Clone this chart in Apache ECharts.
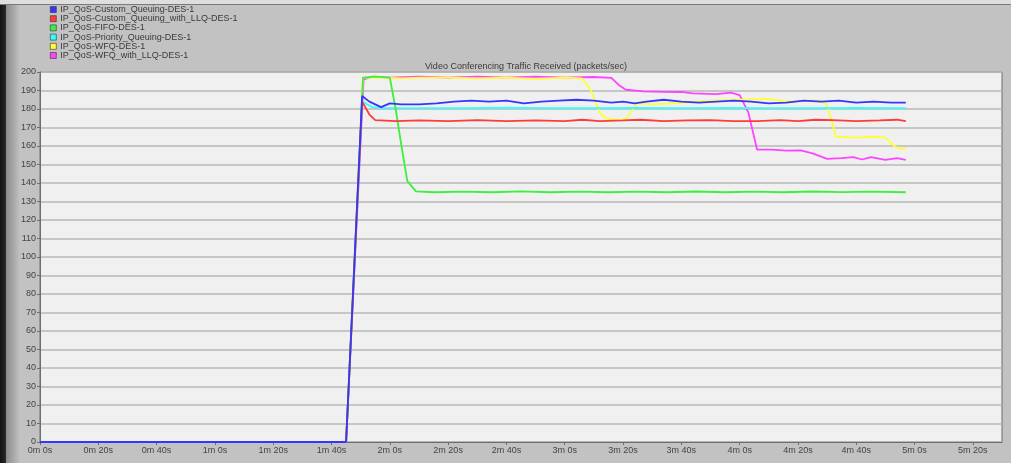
<!DOCTYPE html>
<html>
<head>
<meta charset="utf-8">
<script src="https://cdn.jsdelivr.net/npm/echarts@6/dist/echarts.min.js"></script>
<style>
  html, body { margin: 0; padding: 0; background: #c2c2c2; }
  #chart { width: 1011px; height: 463px; }
</style>
</head>
<body>
<div id="chart"></div>
<script>
// series names (legend order)
var names = [
  'IP_QoS-Custom_Queuing-DES-1',
  'IP_QoS-Custom_Queuing_with_LLQ-DES-1',
  'IP_QoS-FIFO-DES-1',
  'IP_QoS-Priority_Queuing-DES-1',
  'IP_QoS-WFQ-DES-1',
  'IP_QoS-WFQ_with_LLQ-DES-1'
];
var colors = ['#3535ff', '#ff3a3a', '#3cf03c', '#33ffff', '#ffff33', '#ff44ff'];

// [seconds, packets/sec]
var customQ = [[0,0],[105,0],[110.5,187],[113,184],[117,181],[120,183],[124,182.5],[130,182.5],[136,183],[142,184],[148,184.5],[154,184],[160,184.5],[166,183],[172,184],[178,184.5],[184,185],[190,184.5],[196,183.5],[200,184],[204,183],[208,184],[214,185],[220,184],[226,183.5],[232,184],[238,184.5],[244,184],[250,183],[256,183.5],[262,184.5],[268,184],[274,184.5],[280,183.5],[286,184],[292,183.5],[297,183.5]];
var customLLQ = [[0,0],[105,0],[110.5,184],[113,177],[115,174],[122,173.5],[130,173.8],[140,173.5],[150,174],[160,173.5],[170,173.8],[180,173.5],[186,174.2],[192,173.5],[200,173.8],[206,174.2],[214,173.5],[222,173.8],[230,174],[238,173.5],[246,173.5],[254,174],[260,173.5],[266,174.2],[272,174],[280,173.5],[288,173.8],[294,174.2],[297,173.5]];
var fifo = [[0,0],[105,0],[110.8,197],[115,197.5],[120,197],[122,180],[124,160],[126,141],[129,135.5],[135,135],[145,135.3],[155,135],[165,135.5],[175,135],[185,135.3],[195,135],[205,135.3],[215,135],[225,135.4],[235,135],[245,135.3],[255,135],[265,135.4],[275,135.1],[285,135.3],[297,135]];
var priorityQ = [[0,0],[105,0],[110.5,184],[114,181],[118,180.5],[130,180.5],[145,180.5],[160,180.7],[175,180.5],[190,180.5],[205,180.6],[220,180.5],[235,180.6],[250,180.5],[265,180.5],[280,180.6],[297,180.5]];
var wfq = [[0,0],[105,0],[110.8,197],[118,197],[124,196.5],[130,197],[140,197],[150,196.5],[160,197],[170,196.3],[180,197],[186,196.5],[189,190],[192,178],[194,175],[198,174],[201,174.5],[203,179],[205,183],[210,182.5],[216,183],[222,183.5],[230,184.5],[240,185],[250,185.5],[256,184],[262,184.5],[268,184.5],[270,182],[271.5,174],[273,165],[280,164.5],[286,165],[290,164.5],[293,160],[295,158.5],[297,159]];
var wfqLLQ = [[0,0],[105,0],[111,196],[114,197.5],[120,197],[130,197.5],[140,197],[150,197.5],[160,197],[170,197.5],[180,197],[190,197.3],[196,196.8],[198.5,193],[201,190.4],[207,189.5],[214,189.3],[220,189.2],[224,188.5],[232,188],[237,188.8],[240,187.5],[243,178],[246,158],[251,158],[256,157.5],[261,157.6],[265,156],[270,153],[275,153.5],[279,154],[282,152.7],[285,154],[290,152.5],[294,153.5],[297,152.5]];

var seriesData = [customQ, customLLQ, fifo, priorityQ, wfq, wfqLLQ];
// drawing order: blue last so it sits on top like the reference
var drawOrder = [5, 4, 3, 2, 1, 0];

function fmtTime(v) {
  var m = Math.floor(v / 60), s = v % 60;
  return m + 'm ' + s + 's';
}

var chart = echarts.init(document.getElementById('chart'));

var series = drawOrder.map(function (i) {
  return {
    name: names[i],
    type: 'line',
    data: seriesData[i],
    showSymbol: false,
    symbol: 'none',
    lineStyle: { width: 1.8, color: colors[i] },
    itemStyle: { color: colors[i] },
    animation: false,
    z: 10 - i
  };
});

chart.setOption({
  backgroundColor: '#c2c2c2',
  animation: false,
  textStyle: { fontFamily: 'Liberation Sans, Arial, sans-serif' },
  title: {
    text: 'Video Conferencing Traffic Received (packets/sec)',
    left: 521,
    textAlign: 'center',
    top: 57,
    textStyle: { fontSize: 9, fontWeight: 'normal', color: '#3a3a3a' }
  },
  legend: {
    data: names,
    orient: 'vertical',
    left: 50,
    top: 5,
    padding: 0,
    itemWidth: 6,
    itemHeight: 6,
    itemGap: 0.2,
    icon: 'rect',
    itemStyle: { borderColor: '#333', borderWidth: 0.6 },
    textStyle: { fontSize: 9, lineHeight: 9, color: '#3a3a3a', padding: [0, 0, 0, -1] }
  },
  graphic: [
    { type: 'rect', shape: { x: 0, y: 0, width: 1011, height: 4 }, style: { fill: '#dedede' }, silent: true },
    { type: 'rect', shape: { x: 0, y: 4, width: 1011, height: 1 }, style: { fill: '#7a7a7a' }, silent: true },
    { type: 'rect', shape: { x: 0, y: 5, width: 6, height: 458 },
      style: { fill: new echarts.graphic.LinearGradient(0, 0, 1, 0, [
        { offset: 0, color: '#111' }, { offset: 1, color: '#2a2a2a' }]) }, silent: true },
    { type: 'rect', shape: { x: 6, y: 5, width: 14, height: 458 },
      style: { fill: new echarts.graphic.LinearGradient(0, 0, 1, 0, [
        { offset: 0, color: '#8a8a8a' }, { offset: 1, color: '#c2c2c2' }]) }, silent: true }
  ],
  grid: {
    left: 40, top: 72, right: 9, bottom: 21,
    show: true,
    backgroundColor: '#f0f0f0',
    borderColor: '#6e6e6e',
    borderWidth: 1
  },
  tooltip: { show: false },
  xAxis: {
    type: 'value',
    min: 0,
    max: 330,
    interval: 20,
    axisLine: { show: true, lineStyle: { color: '#6e6e6e', width: 1 } },
    axisTick: { show: true, length: 3, lineStyle: { color: '#6e6e6e' } },
    axisLabel: {
      fontSize: 9, color: '#444', margin: 4, showMaxLabel: false,
      formatter: function (v) { return v % 20 === 0 ? fmtTime(v) : ''; }
    },
    splitLine: { show: false }
  },
  yAxis: {
    type: 'value',
    min: 0,
    max: 200,
    interval: 10,
    axisLine: { show: true, lineStyle: { color: '#6e6e6e', width: 1 } },
    axisTick: { show: true, length: 3, lineStyle: { color: '#6e6e6e' } },
    axisLabel: { fontSize: 9, color: '#444', margin: 4 },
    splitLine: { show: true, lineStyle: { color: '#b9b9b9', width: 1.5 } }
  },
  series: series
});
</script>
</body>
</html>
